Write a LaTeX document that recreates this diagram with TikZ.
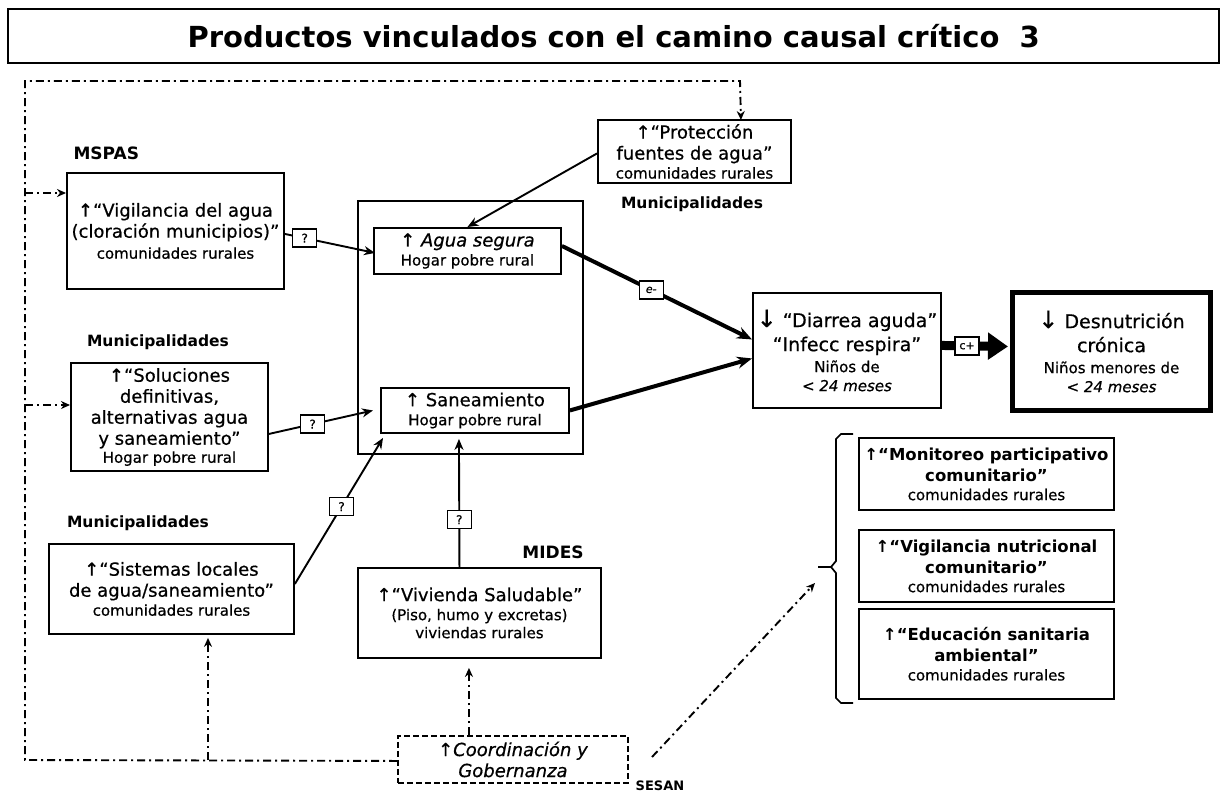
\documentclass[tikz,border=0pt]{standalone}
\usepackage{fontspec}
\setmainfont{DejaVu Sans}[UprightFeatures={FakeBold=0.6},ItalicFeatures={FakeBold=0.6}]
\usetikzlibrary{arrows.meta,calc}
\newcommand\bigtxt{\fontsize{18}{21}\selectfont}
\newcommand\smalltxt{\fontsize{15}{21}\selectfont}
\newcommand\boldtxt{\fontsize{16.5}{21}\selectfont\bfseries}
\newcommand\bigarrowtxt{\fontsize{19}{24}\selectfont}
\begin{document}
\begin{tikzpicture}[x=1pt,y=-1pt,
  box/.style={draw, line width=1.9pt, align=center, inner sep=2pt, anchor=north west, font=\bigtxt},
  qbox/.style={draw, line width=1.3pt, fill=white, inner sep=0pt, minimum width=24pt, minimum height=18pt, font=\fontsize{12}{12}\selectfont},
  lab/.style={font=\fontsize{15.5}{18}\selectfont\bfseries},
  arr/.style={line width=1.9pt, -{Stealth[length=11pt,width=9pt]}},
  tarr/.style={line width=4pt, -{Stealth[length=15pt,width=12pt]}},
  dd/.style={line width=1.9pt, dash pattern=on 8pt off 4pt on 2pt off 4pt},
  ddarr/.style={dd, -{Stealth[length=9pt,width=8pt]}}
]
\useasboundingbox (0,0) rectangle (1225,806);

% title
\node[draw, line width=2.4pt, minimum width=1211pt, minimum height=54pt, anchor=north west,
      font=\fontsize{29}{32}\selectfont\bfseries] (title) at (7,8)
      {Productos vinculados con el camino causal crítico\ \ 3};

% boxes
\node[box, minimum width=217pt, minimum height=116pt] (vig) at (66,172)
  {↑“Vigilancia del agua\\(cloración municipios)”\\\smalltxt comunidades rurales};
\node[draw, line width=1.9pt, minimum width=225pt, minimum height=253pt, anchor=north west] (cont) at (357,200) {};
\node[box, minimum width=187pt, minimum height=46pt] (agua) at (373,227)
  {\itshape ↑ Agua segura\\[-2pt]\smalltxt\upshape Hogar pobre rural};
\node[box, minimum width=188pt, minimum height=45pt] (san) at (380,387)
  {↑ Saneamiento\\[-2pt]\smalltxt Hogar pobre rural};
\node[box, minimum width=193pt, minimum height=63pt] (prot) at (597,119)
  {↑“Protección\\fuentes de agua”\\[-2pt]\smalltxt comunidades rurales};
\node[box, minimum width=197pt, minimum height=108pt] (sol) at (70,362)
  {↑“Soluciones\\definitivas,\\alternativas agua\\y saneamiento”\\[-3pt]\smalltxt Hogar pobre rural};
\node[box, minimum width=245pt, minimum height=90pt] (sis) at (48,543)
  {↑“Sistemas locales\\de agua/saneamiento”\\[-2pt]\smalltxt comunidades rurales};
\node[box, minimum width=243pt, minimum height=90pt] (viv) at (357,567)
  {↑“Vivienda Saludable”\\[-2pt]\smalltxt (Piso, humo y excretas)\\[-3pt]\smalltxt viviendas rurales};
\node[box, minimum width=188pt, minimum height=115pt, font=\bigarrowtxt] (dia) at (752,292)
  {{\fontsize{24}{24}\selectfont↓} “Diarrea aguda”\\“Infecc respira”\\[-3pt]\smalltxt Niños de\\[-5pt]\smalltxt\itshape < 24 meses};
\node[box, line width=5pt, minimum width=198pt, minimum height=118pt, font=\bigarrowtxt] (des) at (1010,290)
  {{\fontsize{24}{24}\selectfont↓} Desnutrición\\crónica\\[-3pt]\smalltxt Niños menores de\\[-5pt]\smalltxt\itshape < 24 meses};
\node[box, minimum width=255pt, minimum height=72pt, font=\boldtxt] (mon) at (858,437)
  {↑“Monitoreo participativo\\comunitario”\\[-2pt]\smalltxt\mdseries comunidades rurales};
\node[box, minimum width=255pt, minimum height=72pt, font=\boldtxt] (vnut) at (858,529)
  {↑“Vigilancia nutricional\\comunitario”\\[-2pt]\smalltxt\mdseries comunidades rurales};
\node[box, minimum width=255pt, minimum height=90pt, font=\boldtxt] (edu) at (858,608)
  {↑“Educación sanitaria\\ambiental”\\[-2pt]\smalltxt\mdseries comunidades rurales};
\node[box, dash pattern=on 6pt off 3pt, minimum width=230pt, minimum height=47pt, font=\bigtxt\itshape] (coord) at (397,735)
  {↑Coordinación y\\Gobernanza};

% agency labels
\node[lab, anchor=west, font=\fontsize{17}{18}\selectfont\bfseries] (lmspas) at (70,153) {MSPAS};
\node[lab] (lmun1) at (158,342) {Municipalidades};
\node[lab] (lmun2) at (138,523) {Municipalidades};
\node[lab] (lmun3) at (692,204) {Municipalidades};
\node[lab, font=\fontsize{17}{18}\selectfont\bfseries] (lmides) at (553,552) {MIDES};
\node[lab, font=\fontsize{13}{15}\selectfont\bfseries] (lsesan) at (660,786) {SESAN};

% solid connectors
\draw[arr] ([yshift=-3pt]vig.east) -- ([xshift=2pt,yshift=-2pt]agua.west) node[qbox, pos=0.22] {?};
\draw[arr] ([yshift=-2pt]prot.west) -- (agua.north);
\draw[arr] ([yshift=-17pt]sol.east) -- ([xshift=-7pt]san.west) node[qbox, pos=0.42] {?};
\draw[arr] ([yshift=5pt]sis.east) -- ([xshift=3pt,yshift=-4pt]san.south west) node[qbox, pos=0.53] {?};
\draw[arr] ([xshift=-20pt]viv.north) -- ([xshift=-16pt,yshift=-5pt]san.south) node[qbox, pos=0.37] {?};
\draw[tarr] ([yshift=5pt]agua.east) -- ([yshift=11pt]dia.west)
  node[qbox, pos=0.47, font=\fontsize{11}{11}\selectfont\itshape] {e-};
\draw[tarr] (san.east) -- ([yshift=-8pt]dia.west);
\draw[line width=9pt, -{Triangle[length=20pt,width=26pt]}] ([yshift=5pt]dia.east) -- ([yshift=5pt,xshift=-2pt]des.west)
  node[qbox, pos=0.38, font=\fontsize{11}{11}\selectfont] {c+};

% dash-dot frame and arrows
\coordinate (fBL) at (25,760);
\coordinate (fTL) at (25,81);
\coordinate (fTR) at (740,81);
\draw[ddarr] ([yshift=-1.5pt]coord.west) -- (fBL) -- (fTL) -- (fTR) -- ([xshift=46.5pt,yshift=-1pt]prot.north);
\coordinate (l1) at (25,193);
\coordinate (l2) at (25,405);
\draw[ddarr] (l1) -- (l1 -| vig.west);
\draw[ddarr] (l2) -- (l2 -| sol.west);
\coordinate (b1) at (208,760);
\draw[ddarr] (b1) -- ([yshift=-3pt]b1 |- sis.south);
\draw[ddarr] ([xshift=-44pt]coord.north) -- ([xshift=-44pt,yshift=-9pt]coord.north |- viv.south);
\coordinate (cs) at (652,757);
\coordinate (brktip) at (815,583);
\draw[ddarr] (cs) -- (brktip);

% bracket
\coordinate (brk) at (818,567);
\draw[line width=1.7pt] (853,434) -- (841,434) -- (836,439) -- (836,561) -- (831,567) -- (836,573) -- (836,698) -- (841,703) -- (853,703);
\draw[line width=1.7pt] (brk) -- (831,567);
\end{tikzpicture}
\end{document}
